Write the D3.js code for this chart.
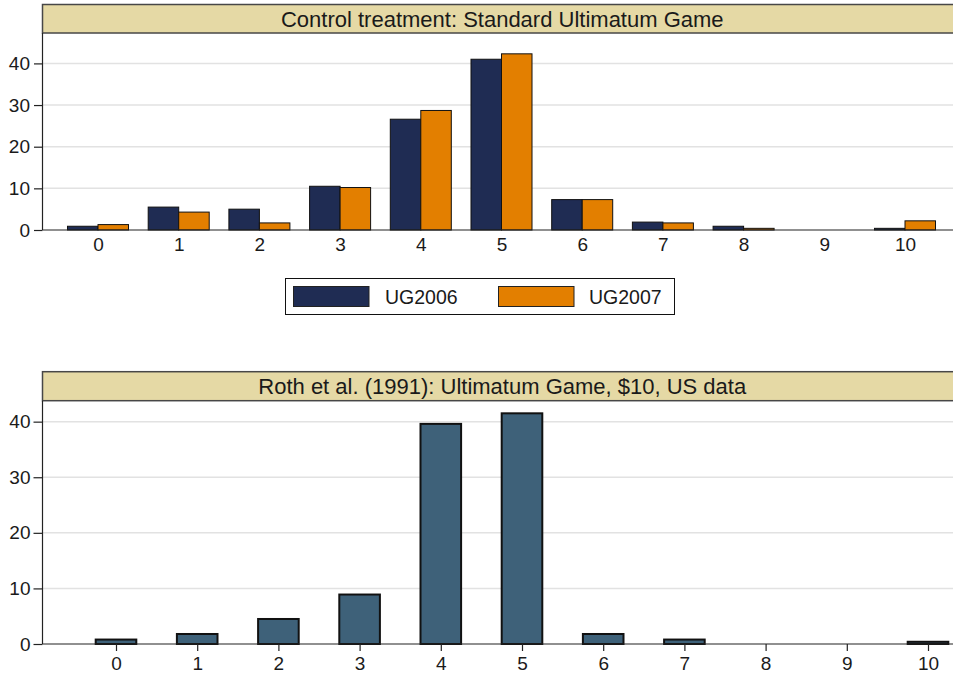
<!DOCTYPE html>
<html>
<head>
<meta charset="utf-8">
<script src="https://cdn.jsdelivr.net/npm/d3@7"></script>
<style>
  html, body { margin: 0; padding: 0; background: #fff; }
  svg { display: block; font-family: "Liberation Sans", Arial, sans-serif; }
</style>
</head>
<body>
<svg id="chart" width="953" height="675"></svg>
<script>
// Offer categories (dollars offered out of $10)
const offers = [0, 1, 2, 3, 4, 5, 6, 7, 8, 9, 10];

// Control treatment, percent of offers
const ug2006 = [0.9, 5.5, 5.0, 10.5, 26.6, 41.0, 7.3, 1.9, 0.9, 0, 0.4];
const ug2007 = [1.3, 4.3, 1.7, 10.2, 28.7, 42.3, 7.3, 1.7, 0.4, 0, 2.2];

// Roth et al. (1991), $10 stakes, US sessions, percent of offers
const roth1991 = [0.8, 1.8, 4.5, 8.9, 39.6, 41.5, 1.8, 0.8, 0, 0, 0.4];

const yTicks = [0, 10, 20, 30, 40];
const seriesNames = ["UG2006", "UG2007"];
const panelTitles = [
  "Control treatment: Standard Ultimatum Game",
  "Roth et al. (1991): Ultimatum Game, $10, US data"
];

const colors = { navy: "#1f2c53", orange: "#e37f00", slate: "#3e6179", band: "#e5d9a5" };
const ink = "#1a1a1a";

const svg = d3.select("#chart");
const plotLeft = 42.5, plotRight = 962;

function panel(opts) {
  const g = svg.append("g");
  const { bandTop, bandBottom, y, yTickSize, yPad } = opts;

  // gridlines
  g.append("g").selectAll("line").data(yTicks.filter(d => d > 0)).join("line")
    .attr("x1", plotLeft).attr("x2", plotRight)
    .attr("y1", d => y(d)).attr("y2", d => y(d))
    .attr("stroke", "#e2e2e2").attr("stroke-width", 1.5);

  // title band
  g.append("rect")
    .attr("x", plotLeft).attr("y", bandTop)
    .attr("width", plotRight - plotLeft).attr("height", bandBottom - bandTop)
    .attr("fill", colors.band).attr("stroke", "#474747").attr("stroke-width", 1.5);
  g.append("text")
    .attr("x", (plotLeft + plotRight) / 2).attr("y", (bandTop + bandBottom) / 2)
    .attr("dy", "0.36em").attr("text-anchor", "middle")
    .attr("font-size", 22).attr("fill", ink)
    .text(opts.title);

  // y axis
  const ya = g.append("g").attr("transform", `translate(${plotLeft},0)`)
    .call(d3.axisLeft(y).tickValues(yTicks).tickSize(yTickSize).tickPadding(yPad));
  ya.select(".domain").remove();
  ya.append("line").attr("x1", 0).attr("x2", 0)
    .attr("y1", y(0)).attr("y2", bandBottom)
    .attr("stroke", "#222").attr("stroke-width", 1.2);
  ya.selectAll(".tick line").attr("stroke", "#222").attr("stroke-width", 1.2);
  ya.selectAll(".tick text").attr("font-size", 19).attr("fill", ink)
    .attr("font-family", "Liberation Sans, Arial, sans-serif");
  return g;
}

// ---------- Upper panel: grouped bars ----------
const yUpper = d3.scaleLinear().domain([0, 47.3]).range([230, 33]);
const xUpper = d3.scaleLinear().domain([0, 10]).range([98, 905]);
const stepUpper = xUpper(1) - xUpper(0);
const barWUpper = stepUpper * 0.378;

const upper = panel({ bandTop: 4.5, bandBottom: 33, y: yUpper, yTickSize: 8.5, yPad: 4,
  title: panelTitles[0] });

const grouped = [ug2006, ug2007];
const groupColors = [colors.navy, colors.orange];
grouped.forEach((vals, si) => {
  upper.append("g").selectAll("rect").data(offers).join("rect")
    .attr("x", d => xUpper(d) + (si - 1) * barWUpper)
    .attr("width", barWUpper)
    .attr("y", (d, i) => yUpper(vals[i]))
    .attr("height", (d, i) => yUpper(0) - yUpper(vals[i]))
    .attr("fill", groupColors[si])
    .attr("stroke", "#111").attr("stroke-width", 1);
});

const xaUpper = upper.append("g").attr("transform", `translate(0,${yUpper(0)})`)
  .call(d3.axisBottom(xUpper).tickValues(offers).tickFormat(d3.format("d")).tickSize(0).tickPadding(8));
xaUpper.select(".domain").remove();
xaUpper.append("line").attr("x1", plotLeft).attr("x2", plotRight)
  .attr("stroke", "#222").attr("stroke-width", 1.2);
xaUpper.selectAll(".tick text").attr("font-size", 19).attr("fill", ink)
  .attr("font-family", "Liberation Sans, Arial, sans-serif");

// legend
const lg = svg.append("g");
lg.append("rect").attr("x", 285.5).attr("y", 278.5).attr("width", 389).attr("height", 36)
  .attr("fill", "#fff").attr("stroke", "#111").attr("stroke-width", 1);
const legendItems = [
  { name: seriesNames[0], color: colors.navy, sx: 293.5, tx: 385 },
  { name: seriesNames[1], color: colors.orange, sx: 498.5, tx: 589 }
];
legendItems.forEach(it => {
  lg.append("rect").attr("x", it.sx).attr("y", 286.5).attr("width", 75.5).attr("height", 20)
    .attr("fill", it.color).attr("stroke", "#222").attr("stroke-width", 1);
  lg.append("text").attr("x", it.tx).attr("y", 304.3)
    .attr("font-size", 19.5).attr("fill", ink).text(it.name);
});

// ---------- Lower panel: single series ----------
const yLower = d3.scaleLinear().domain([0, 43.77]).range([644, 400.7]);
const xLower = d3.scaleLinear().domain([0, 10]).range([116, 928]);
const barWLower = (xLower(1) - xLower(0)) * 0.5;

const lower = panel({ bandTop: 371.7, bandBottom: 400.7, y: yLower, yTickSize: 9, yPad: 3,
  title: panelTitles[1] });

lower.append("g").selectAll("rect").data(offers).join("rect")
  .attr("x", d => xLower(d) - barWLower / 2)
  .attr("width", barWLower)
  .attr("y", (d, i) => yLower(roth1991[i]))
  .attr("height", (d, i) => yLower(0) - yLower(roth1991[i]))
  .attr("fill", colors.slate)
  .attr("stroke", "#111").attr("stroke-width", 2)
  .attr("display", (d, i) => roth1991[i] > 0 ? null : "none");

const xaLower = lower.append("g").attr("transform", `translate(0,${yLower(0)})`)
  .call(d3.axisBottom(xLower).tickValues(offers).tickFormat(d3.format("d")).tickSize(7).tickPadding(6));
xaLower.select(".domain").remove();
xaLower.append("line").attr("x1", plotLeft).attr("x2", plotRight)
  .attr("stroke", "#222").attr("stroke-width", 1.2);
xaLower.selectAll(".tick line").attr("stroke", "#222").attr("stroke-width", 1.2);
xaLower.selectAll(".tick text").attr("font-size", 19).attr("fill", ink)
  .attr("font-family", "Liberation Sans, Arial, sans-serif");
</script>
</body>
</html>
